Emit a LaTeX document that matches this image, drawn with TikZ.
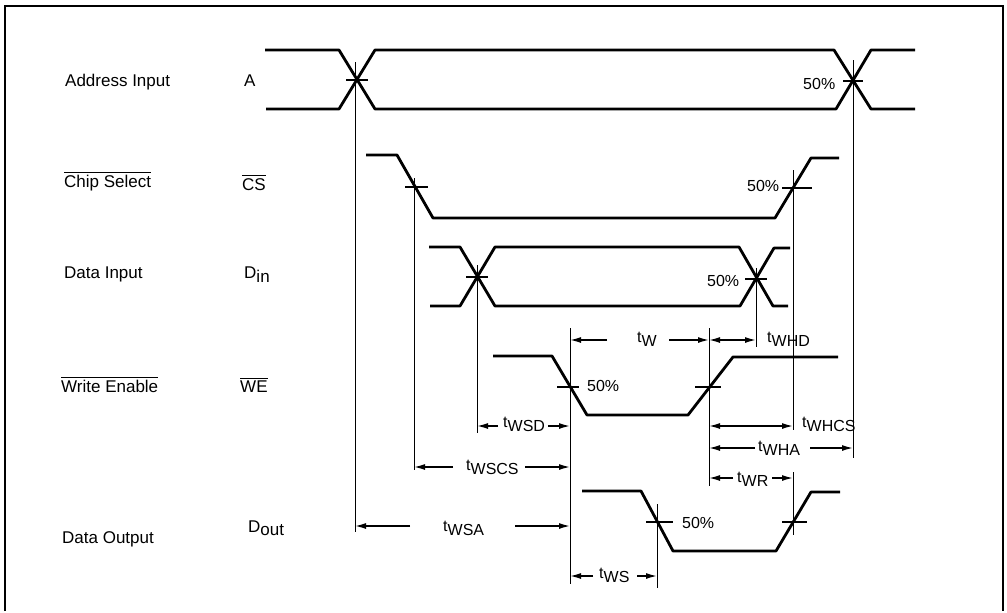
\documentclass[tikz,border=0pt]{standalone}
\usepackage{fontspec}
\setmainfont{Liberation Sans}
\usetikzlibrary{arrows.meta}
\begin{document}
\begin{tikzpicture}[x=1pt,y=-1pt,
  wave/.style={line width=2.8pt, line join=round},
  guide/.style={line width=0.9pt},
  tickmark/.style={line width=1.1pt},
  dim/.style={line width=1.4pt, -{Latex[length=11pt,width=6pt]}},
  dimboth/.style={line width=1.4pt, {Latex[length=11pt,width=6pt]}-{Latex[length=11pt,width=6pt]}},
  sig/.style={font=\fontsize{17}{19}\selectfont, anchor=base west, inner sep=0pt},
  tlab/.style={font=\fontsize{16}{18}\selectfont, anchor=base west, inner sep=0pt},
  ovl/.style={line width=0.9pt},
]
\useasboundingbox (0,0) rectangle (1007,613);
% frame
\draw[line width=1.2pt] (5,611) -- (5,6) -- (1003,6) -- (1003,611);

% signal labels
\node[sig] (lA)   at (65,86)  {Address Input};
\node[sig] (sA)   at (244,86) {A};
\node[sig] (lCS)  at (64,187) {Chip Select};
\node[sig] (sCS)  at (242,190) {CS};
\node[sig] (lDin) at (64,278) {Data Input};
\node[sig] (sDin) at (244,278) {D\raisebox{-4pt}{in}};
\node[sig] (lWE)  at (61,392) {Write Enable};
\node[sig] (sWE)  at (240,392) {WE};
\node[sig] (lDo)  at (62,543) {Data Output};
\node[sig] (sDo)  at (248,532) {D\raisebox{-3pt}{out}};
\draw[ovl] ([yshift=2pt]lCS.north west) -- ([yshift=2pt]lCS.north east);
\draw[ovl] ([yshift=2pt]sCS.north west) -- ([yshift=2pt]sCS.north east);
\draw[ovl] ([yshift=2pt]lWE.north west) -- ([yshift=2pt]lWE.north east);
\draw[ovl] ([yshift=2pt]sWE.north west) -- ([yshift=2pt]sWE.north east);

% waveforms
\draw[wave] (265,50) -- (339,50) -- (375,109) -- (836,109) -- (871,50) -- (915,50);
\draw[wave] (266,109) -- (339,109) -- (375,50) -- (834,50) -- (871,109) -- (915,109);
\draw[wave] (366,155) -- (397,155) -- (433,218) -- (775,218) -- (811,158) -- (839,158);
\draw[wave] (429,247) -- (460,247) -- (495,306) -- (740,306) -- (774,248) -- (790,248);
\draw[wave] (430,306) -- (460,306) -- (495,247) -- (739,247) -- (773,306) -- (788,306);
\draw[wave] (493,356) -- (552,356) -- (587,415) -- (688,415) -- (733,357) -- (838,357);
\draw[wave] (582,491) -- (641,491) -- (673,551) -- (776,551) -- (811,492) -- (840,492);

% 50% tick marks
\draw[tickmark] (346,80) -- (368,80);
\draw[tickmark] (843,81) -- (863,81);
\draw[tickmark] (405,187) -- (428,187);
\draw[tickmark] (782,188) -- (812,188);
\draw[tickmark] (466,277) -- (488,277);
\draw[tickmark] (745,279) -- (767,279);
\draw[tickmark] (557,387) -- (579,387);
\draw[tickmark] (695,387) -- (721,387);
\draw[tickmark] (646,522) -- (673,522);
\draw[tickmark] (782,522) -- (807,522);

% 50% labels
\node[tlab] (pA)  at (803,89)  {50\%};
\node[tlab] (pCS) at (747,191) {50\%};
\node[tlab] (pD)  at (707,286) {50\%};
\node[tlab] (pW)  at (587,391) {50\%};
\node[tlab] (pO)  at (682,528) {50\%};

% vertical reference lines
\draw[guide] (355,62) -- (355,532);
\draw[guide] (414,178) -- (414,470);
\draw[guide] (477,265) -- (477,433);
\draw[guide] (570,328) -- (570,584);
\draw[guide] (709,328) -- (709,486);
\draw[guide] (756,268) -- (756,347);
\draw[guide] (793,170) -- (793,430);
\draw[guide] (793,472) -- (793,535);
\draw[guide] (853,60) -- (853,458);
\draw[guide] (657,504) -- (657,588);

% timing labels
\node[tlab] (tW)    at (637,346) {\raisebox{3.5pt}{t}W};
\node[tlab] (tWHD)  at (767,346) {\raisebox{3.5pt}{t}WHD};
\node[tlab] (tWSD)  at (503,431) {\raisebox{3.5pt}{t}WSD};
\node[tlab] (tWHCS) at (802,431) {\raisebox{3.5pt}{t}WHCS};
\node[tlab] (tWSCS) at (466,474) {\raisebox{3.5pt}{t}WSCS};
\node[tlab] (tWHA)  at (758,455) {\raisebox{3.5pt}{t}WHA};
\node[tlab] (tWR)   at (737,486) {\raisebox{3.5pt}{t}WR};
\node[tlab] (tWSA)  at (443,535) {\raisebox{3.5pt}{t}WSA};
\node[tlab] (tWS)   at (599,582) {\raisebox{3.5pt}{t}WS};

% timing arrows
\draw[dim] (607,340) -- (570,340);
\draw[dim] (669,340) -- (709,340);
\draw[dimboth] (709,340) -- (756,340);
\draw[dim] (498,426) -- (477,426);
\draw[dim] (548,426) -- (570,426);
\draw[dim] (453,467) -- (414,467);
\draw[dim] (525,467) -- (570,467);
\draw[dim] (410,526) -- (355,526);
\draw[dim] (515,526) -- (570,526);
\draw[dim] (593,576) -- (570,576);
\draw[dim] (637,576) -- (657,576);
\draw[dimboth] (709,426) -- (793,426);
\draw[dim] (755,448) -- (709,448);
\draw[dim] (810,448) -- (853,448);
\draw[dim] (733,478) -- (709,478);
\draw[dim] (772,478) -- (793,478);
\end{tikzpicture}
\end{document}
